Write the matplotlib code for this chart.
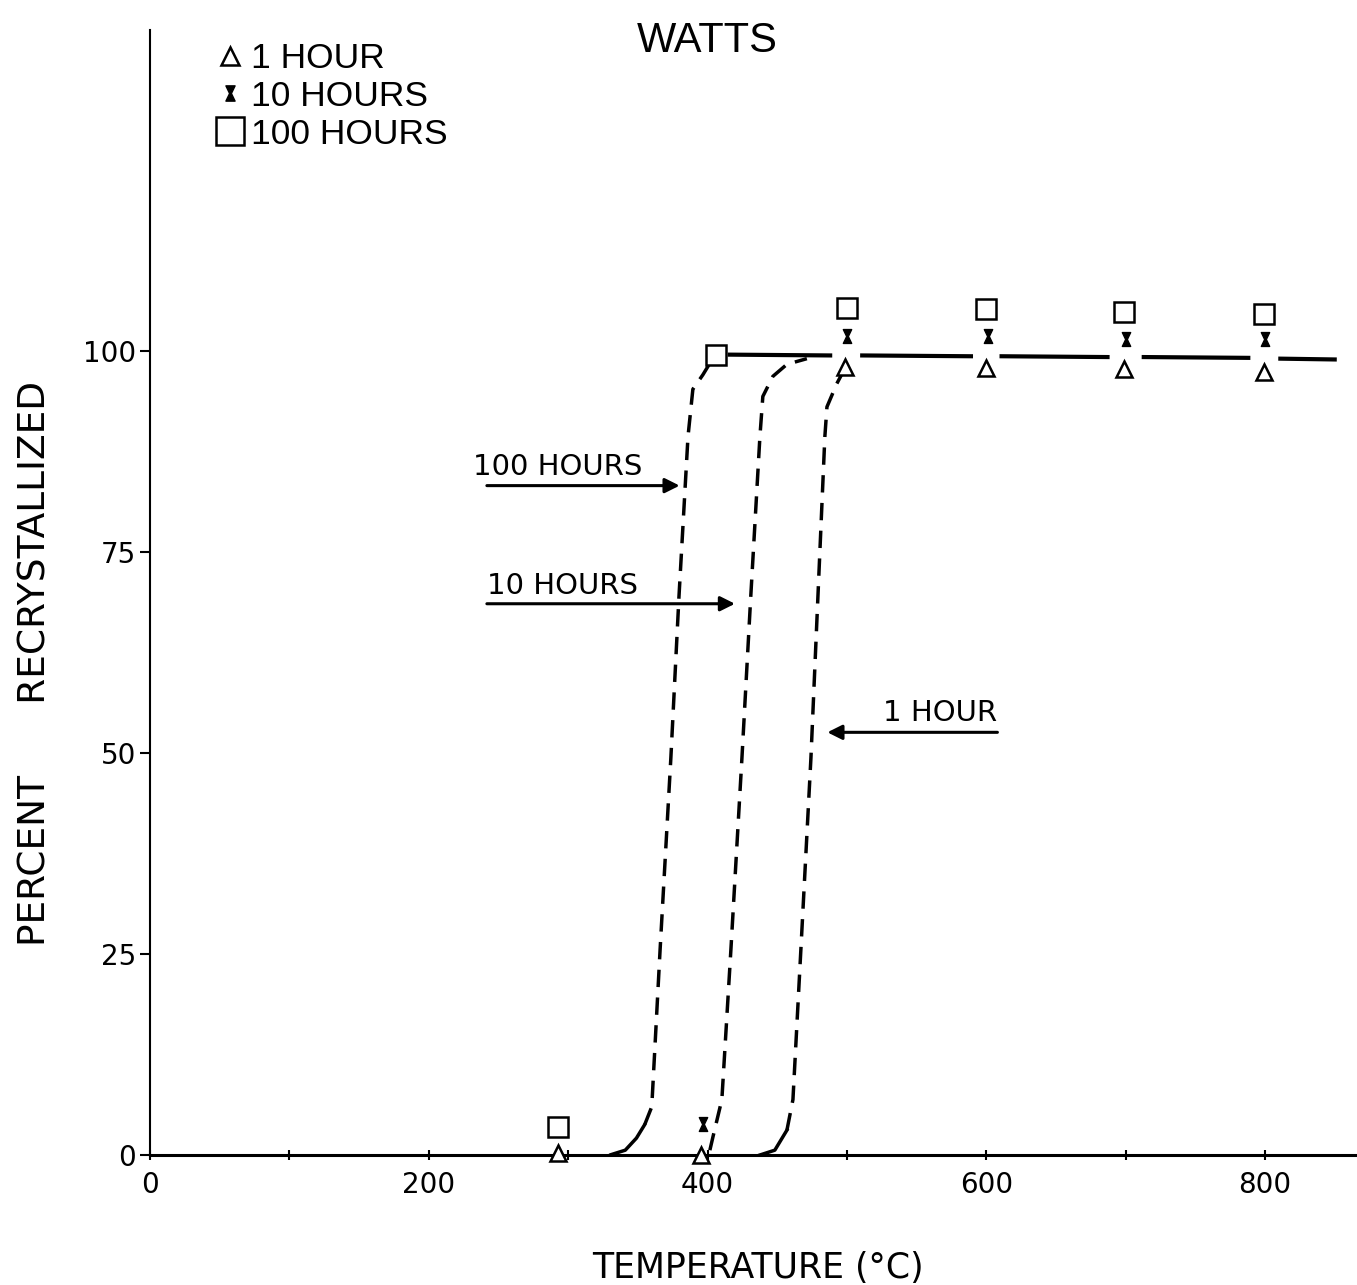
import numpy as np
import matplotlib.pyplot as plt
from matplotlib.path import Path
from matplotlib.lines import Line2D

# label fonts
tick_font = 20
legend_font = 25.5
label_font = 25
note_font = 21
narrow = ['Liberation Sans Narrow', 'DejaVu Sans']

# measured points (temperature degC, percent recrystallized)
hour1_T = [293, 395, 499, 600, 699, 799]
hour1_P = [0.3, 0.0, 98.1, 97.9, 97.8, 97.4]

hour10_T = [397, 500, 601, 700, 800]
hour10_P = [3.8, 101.9, 101.9, 101.6, 101.5]

hour100_T = [293, 406, 500, 600, 699, 799]
hour100_P = [3.5, 99.6, 105.4, 105.3, 104.9, 104.6]

# hand drawn curves: solid foot, dashed rise
c100_foot_T = [330, 341, 349, 355]
c100_foot_P = [0, 0.6, 2.1, 3.8]
c100_T = [355, 360, 366, 373.7, 379.5, 386, 389.5, 396.7, 403, 410]
c100_P = [3.8, 6, 25.6, 49.4, 69.4, 89.4, 95.3, 97.1, 98.9, 99.5]

c10_T = [401.7, 403.9, 410.3, 416.8, 424.7, 431, 437.6, 439.7, 446.9, 457, 471.3]
c10_P = [0.6, 2.25, 6.9, 25.6, 49.4, 69.4, 89.4, 94.4, 96.9, 98.4, 99.1]

c1_foot_T = [437.6, 448.3, 457]
c1_foot_P = [0, 0.6, 3.1]
c1_T = [457, 461.3, 467, 474.2, 479.2, 484.2, 485.7, 492.8, 498.6]
c1_P = [3.1, 6.9, 25.6, 49.4, 69.4, 89.4, 93.1, 96, 97.9]

# top plateau, broken where the symbols sit
plateau_T = [416, 488, np.nan, 511, 589, np.nan, 611, 687, np.nan, 713, 788, np.nan, 811, 850]
plateau_P = [99.6, 99.5, np.nan, 99.5, 99.4, np.nan, 99.4, 99.3, np.nan, 99.3, 99.2, np.nan, 99.1, 99.0]

# hourglass marker for the 10 hour points
hourglass = Path([(-0.6, 1), (0.6, 1), (0.12, 0), (0.6, -1), (-0.6, -1), (-0.12, 0), (-0.6, 1)],
                 [Path.MOVETO] + [Path.LINETO] * 5 + [Path.CLOSEPOLY])

fig = plt.figure(figsize=(13.57, 12.85), dpi=100)
ax = fig.add_axes([150/1357, 1 - 1155/1285, 1 - 150/1357, (1155 - 30)/1285])

ax.plot(c100_foot_T, c100_foot_P, color='black', lw=2.5, solid_capstyle='round')
ax.plot(c100_T, c100_P, color='black', lw=2.5, dashes=(5, 3))
ax.plot(c10_T, c10_P, color='black', lw=2.5, dashes=(5, 3))
ax.plot(c1_foot_T, c1_foot_P, color='black', lw=2.5)
ax.plot(c1_T, c1_P, color='black', lw=2.5, dashes=(5, 3))
ax.plot(plateau_T, plateau_P, color='black', lw=3)

ax.plot(hour1_T, hour1_P, ls='none', marker='^', ms=11, mfc='white', mec='black', mew=1.8,
        clip_on=False, zorder=5)
ax.plot(hour10_T, hour10_P, ls='none', marker=hourglass, ms=10, mfc='black', mec='black', mew=1,
        clip_on=False, zorder=5)
ax.plot(hour100_T, hour100_P, ls='none', marker='s', ms=15, mfc='white', mec='black', mew=1.8,
        clip_on=False, zorder=5)

# arrows with labels
arrow = dict(arrowstyle='-|>', lw=2.2, color='black', mutation_scale=22, shrinkA=0, shrinkB=0)
ax.annotate('', xy=(380, 83.3), xytext=(241.7, 83.3), arrowprops=arrow)
ax.text(231.7, 84.6, '100 HOURS', fontsize=note_font, family=narrow, va='baseline')
ax.annotate('', xy=(419.7, 68.6), xytext=(241.7, 68.6), arrowprops=arrow)
ax.text(241.7, 69.8, '10 HOURS', fontsize=note_font, family=narrow, va='baseline')
ax.annotate('', xy=(486, 52.6), xytext=(608, 52.6), arrowprops=arrow)
ax.text(525.8, 54, '1 HOUR', fontsize=note_font, family=narrow, va='baseline')

ax.set_xlim(0, 866)
ax.set_ylim(0, 140)
ax.spines['top'].set_visible(False)
ax.spines['right'].set_visible(False)
ax.spines['bottom'].set_linewidth(2.2)
ax.spines['left'].set_linewidth(1.5)

ax.set_xticks([0, 200, 400, 600, 800])
ax.set_xticks([100, 300, 500, 700], minor=True)
ax.set_yticks([0, 25, 50, 75, 100])
ax.tick_params(axis='x', which='both', direction='inout', length=7, width=1.5, labelsize=tick_font, pad=8)
ax.tick_params(axis='y', direction='out', length=7, width=1.5, labelsize=tick_font, pad=3)

handles = [
    Line2D([], [], ls='none', marker='^', ms=13, mfc='white', mec='black', mew=1.8),
    Line2D([], [], ls='none', marker=hourglass, ms=11, mfc='black', mec='black'),
    Line2D([], [], ls='none', marker='s', ms=20, mfc='white', mec='black', mew=1.8),
]
ax.legend(handles, ['1 HOUR', '10 HOURS', '100 HOURS'], loc='upper left',
          bbox_to_anchor=(0.043, 1.002), frameon=False,
          handlelength=0.8, handletextpad=0.2, labelspacing=0.14, borderaxespad=0,
          prop={'family': 'Liberation Sans', 'size': legend_font})

fig.text(707/1357, 1 - 52/1285, 'WATTS', fontsize=30, family='Liberation Sans',
         ha='center', va='baseline')
fig.text(758/1357, 1 - 1278/1285, 'TEMPERATURE (°C)', fontsize=label_font, ha='center', va='baseline')
fig.text(36/1357, 1 - 663/1285, 'PERCENT      RECRYSTALLIZED', fontsize=27,
         rotation=90, ha='center', va='center')

fig.savefig('out.png', dpi=100)
